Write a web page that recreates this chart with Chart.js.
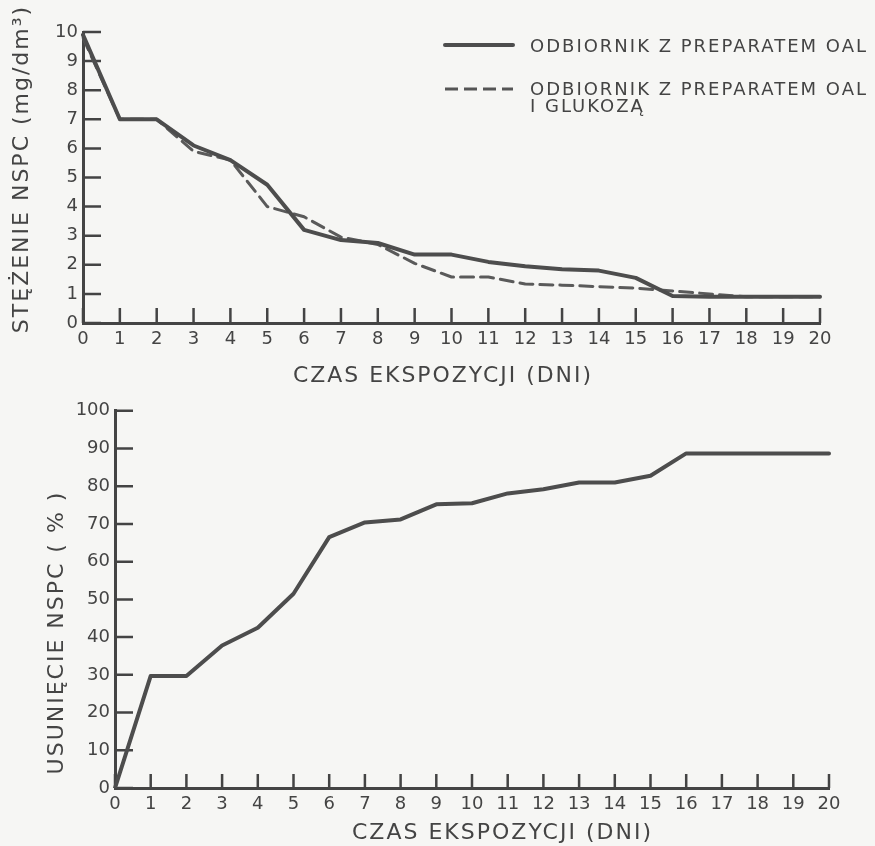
<!DOCTYPE html>
<html>
<head>
<meta charset="utf-8">
<script src="https://cdn.jsdelivr.net/npm/chart.js@4.4.1/dist/chart.umd.min.js"></script>
<style>
  html, body { margin: 0; padding: 0; background: #f6f6f4; }
  body { width: 875px; height: 846px; position: relative; overflow: hidden; font-family: "DejaVu Sans", sans-serif; }
  canvas { position: absolute; left: 0; }
  #c1 { top: 0; }
  #c2 { top: 395px; }
  .leg { position: absolute; left: 443px; color: #444; font-size: 18px; letter-spacing: 2px; line-height: 17px; }
  .leg svg { position: absolute; left: 0; }
  .leg span { position: absolute; left: 87px; white-space: nowrap; }
</style>
</head>
<body>
<canvas id="c1" width="875" height="395"></canvas>
<canvas id="c2" width="875" height="451"></canvas>
<div class="leg" style="top:36px;">
  <svg width="72" height="18" style="top:0"><line x1="2" y1="9" x2="70" y2="9" stroke="#4d4d4d" stroke-width="4" stroke-linecap="round"/></svg>
  <span style="top:1px">ODBIORNIK Z PREPARATEM OAL</span>
</div>
<div class="leg" style="top:80px;">
  <svg width="72" height="18" style="top:0"><line x1="2" y1="9" x2="70" y2="9" stroke="#555" stroke-width="3" stroke-dasharray="13 6"/></svg>
  <span style="top:0px">ODBIORNIK Z PREPARATEM OAL</span>
  <span style="top:17px">I GLUKOZĄ</span>
</div>
<script>
// ---- data ----
const days = ['0','1','2','3','4','5','6','7','8','9','10','11','12','13','14','15','16','17','18','19','20'];
const oal = [9.9, 7.0, 7.0, 6.1, 5.6, 4.75, 3.2, 2.85, 2.75, 2.35, 2.35, 2.1, 1.95, 1.85, 1.8, 1.55, 0.93, 0.9, 0.9, 0.9, 0.9];
const oalGlucose = [9.8, 7.0, 7.0, 5.9, 5.6, 4.0, 3.65, 2.95, 2.7, 2.05, 1.58, 1.58, 1.34, 1.3, 1.25, 1.2, 1.1, 1.0, 0.9, 0.9, 0.9];
const removal = [0, 29.7, 29.7, 37.8, 42.5, 51.5, 66.5, 70.4, 71.2, 75.2, 75.5, 78.1, 79.2, 81, 81, 82.8, 88.7, 88.7, 88.7, 88.7, 88.7];
const seriesNames = ['ODBIORNIK Z PREPARATEM OAL', 'ODBIORNIK Z PREPARATEM OAL I GLUKOZĄ'];
const xTitle = 'CZAS EKSPOZYCJI (DNI)';
const yTitleTop = 'STĘŻENIE NSPC (mg/dm³)';
const yTitleBottom = 'USUNIĘCIE NSPC ( % )';

const INK = '#444';
const FONT = '"DejaVu Sans", sans-serif';

const innerTicks = {
  id: 'innerTicks',
  beforeDatasetsDraw(chart, args, o) {
    const {ctx} = chart;
    const x = chart.scales.x, y = chart.scales.y;
    ctx.save();
    ctx.strokeStyle = INK;
    ctx.lineWidth = 2.5;
    ctx.beginPath();
    x.ticks.forEach((t, i) => {
      const px = x.getPixelForTick(i);
      ctx.moveTo(px, x.top); ctx.lineTo(px, x.top - o.xLen);
    });
    y.ticks.forEach((t, i) => {
      const py = y.getPixelForTick(i);
      ctx.moveTo(y.right, py); ctx.lineTo(y.right + o.yLen, py);
    });
    ctx.stroke();
    ctx.restore();
  }
};

// letter-spaced axis titles, placed over the span they occupy in the original drawing
const spacedTitles = {
  id: 'spacedTitles',
  beforeDraw(chart, args, o) {
    Object.values(chart.scales).forEach(s => {
      if (s.__spaced) return;
      const orig = s.drawTitle;
      s.drawTitle = function () {
        const c = this.ctx;
        const prev = c.letterSpacing;
        const span = o[this.id];
        const horiz = this.isHorizontal();
        const k1 = horiz ? 'left' : 'top', k2 = horiz ? 'right' : 'bottom';
        const s1 = this[k1], s2 = this[k2];
        if (span) { this[k1] = span[0]; this[k2] = span[1]; }
        c.letterSpacing = o.spacing;
        orig.apply(this, arguments);
        c.letterSpacing = prev || '0px';
        this[k1] = s1; this[k2] = s2;
      };
      s.__spaced = true;
    });
  }
};

function makeOptions(cfg) {
  return {
    responsive: false,
    animation: false,
    devicePixelRatio: 1,
    layout: { padding: cfg.padding },
    plugins: {
      legend: { display: false },
      tooltip: { enabled: false },
      innerTicks: { xLen: cfg.xLen, yLen: cfg.yLen },
      spacedTitles: { spacing: '2px', x: cfg.xSpan, y: cfg.ySpan }
    },
    elements: { point: { radius: 0 }, line: { tension: 0, borderJoinStyle: 'round', borderCapStyle: 'round' } },
    scales: {
      x: {
        type: 'category',
        offset: false,
        grid: { display: false, drawTicks: false },
        border: { display: true, color: INK, width: 3 },
        ticks: { color: INK, font: { family: FONT, size: 18 }, padding: 6, autoSkip: false, maxRotation: 0 },
        title: { display: true, text: xTitle, color: INK, font: { family: FONT, size: 22 }, padding: { top: 0, bottom: cfg.xTitlePad } },
        afterFit(s) { s.height = cfg.xHeight; }
      },
      y: {
        min: cfg.yMin, max: cfg.yMax,
        grid: { display: false, drawTicks: false },
        border: { display: true, color: INK, width: 3 },
        ticks: { stepSize: cfg.step, color: INK, font: { family: FONT, size: 18 }, padding: 5 },
        title: { display: true, text: cfg.yTitle, color: INK, font: { family: FONT, size: 22 }, padding: { top: cfg.yTitlePad, bottom: 0 } },
        afterFit(s) { s.width = cfg.yWidth; }
      }
    }
  };
}

new Chart(document.getElementById('c1'), {
  type: 'line',
  data: {
    labels: days,
    datasets: [
      { label: seriesNames[0], data: oal, borderColor: '#4d4d4d', borderWidth: 4, fill: false },
      { label: seriesNames[1], data: oalGlucose, borderColor: '#5a5a5a', borderWidth: 3, borderDash: [13, 7], fill: false }
    ]
  },
  options: makeOptions({
    padding: { top: 32, right: 55, bottom: 0, left: 0 },
    yMin: 0, yMax: 10, step: 1,
    yTitle: yTitleTop, yTitlePad: 9, xTitlePad: 6,
    xSpan: [293, 593], ySpan: [8, 330],
    xHeight: 72, yWidth: 83, xLen: 15, yLen: 18
  }),
  plugins: [innerTicks, spacedTitles]
});

new Chart(document.getElementById('c2'), {
  type: 'line',
  data: {
    labels: days,
    datasets: [
      { label: yTitleBottom, data: removal, borderColor: '#4d4d4d', borderWidth: 4, fill: false }
    ]
  },
  options: makeOptions({
    padding: { top: 14, right: 46, bottom: 0, left: 0 },
    yMin: 0, yMax: 100, step: 10,
    yTitle: yTitleBottom, yTitlePad: 44, xTitlePad: 0,
    xSpan: [345, 660], ySpan: [90, 385],
    xHeight: 58, yWidth: 115, xLen: 14, yLen: 18
  }),
  plugins: [innerTicks, spacedTitles]
});
</script>
</body>
</html>
